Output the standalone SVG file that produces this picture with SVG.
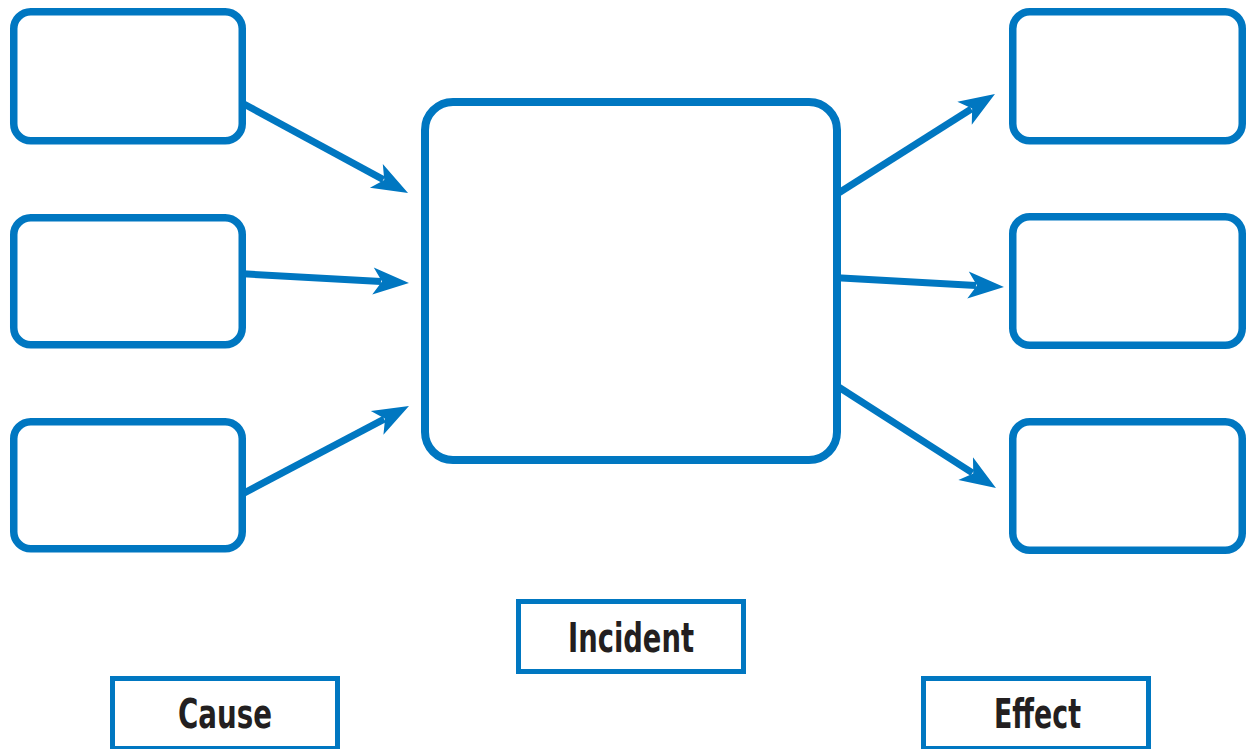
<svg xmlns="http://www.w3.org/2000/svg" width="1248" height="749" viewBox="0 0 1248 749">
<style>
.box{fill:#fff;stroke:#0077c1;stroke-width:7.5}
.main{fill:#fff;stroke:#0077c1;stroke-width:8}
.lbl{fill:#fff;stroke:#0077c1;stroke-width:5}
.conn{stroke:#0077c1;stroke-width:7;fill:none}
.t{font-family:"Liberation Sans Narrow","DejaVu Sans Condensed","Liberation Sans",sans-serif;font-weight:bold;font-size:40px;fill:#231f20;text-anchor:middle}
</style>
<defs>
<marker id="ah" markerUnits="userSpaceOnUse" orient="auto" refX="0" refY="0" markerWidth="80" markerHeight="80" overflow="visible">
<path d="M28,0 L-8,-13.5 L1,0 L-8,13.5 Z" fill="#0077c1"/>
</marker>
</defs>
<g id="connectors">
<line class="conn" x1="243" y1="103.5" x2="383.4" y2="179.6" marker-end="url(#ah)"/>
<line class="conn" x1="243" y1="273.8" x2="381" y2="281.5" marker-end="url(#ah)"/>
<line class="conn" x1="243" y1="493.6" x2="384.2" y2="419.1" marker-end="url(#ah)"/>
<line class="conn" x1="837" y1="194" x2="971.3" y2="109" marker-end="url(#ah)"/>
<line class="conn" x1="837" y1="277.8" x2="976" y2="285.5" marker-end="url(#ah)"/>
<line class="conn" x1="837" y1="386" x2="972.4" y2="472.9" marker-end="url(#ah)"/>
</g>
<g id="cause1"><rect class="box" x="13.75" y="11.75" width="228.5" height="129" rx="17"/></g>
<g id="cause2"><rect class="box" x="13.75" y="217.75" width="228.5" height="127" rx="17"/></g>
<g id="cause3"><rect class="box" x="13.75" y="421.75" width="228.5" height="127" rx="17"/></g>
<g id="incident"><rect class="main" x="425" y="102" width="412" height="358" rx="28"/></g>
<g id="effect1"><rect class="box" x="1012.75" y="11.75" width="229.5" height="129" rx="17"/></g>
<g id="effect2"><rect class="box" x="1012.75" y="216.75" width="229.5" height="128.5" rx="17"/></g>
<g id="effect3"><rect class="box" x="1012.75" y="421.75" width="229.5" height="128.5" rx="17"/></g>
<g id="label-incident"><rect class="lbl" x="518.5" y="601.5" width="225" height="70"/><text class="t" x="631" y="652" textLength="126" lengthAdjust="spacingAndGlyphs">Incident</text></g>
<g id="label-cause"><rect class="lbl" x="112.5" y="678.5" width="225" height="70"/><text class="t" x="225" y="728" textLength="94" lengthAdjust="spacingAndGlyphs">Cause</text></g>
<g id="label-effect"><rect class="lbl" x="923.5" y="678.5" width="225" height="70"/><text class="t" x="1037.5" y="728" textLength="87" lengthAdjust="spacingAndGlyphs">Effect</text></g>
</svg>
